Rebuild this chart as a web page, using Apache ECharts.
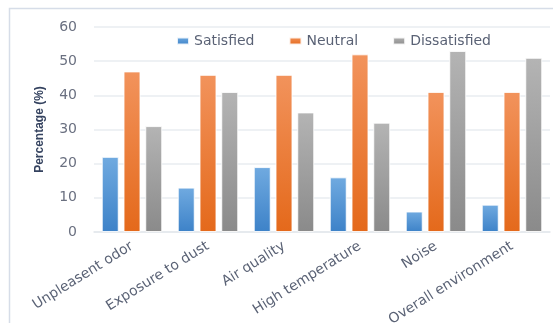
<!DOCTYPE html>
<html>
<head>
<meta charset="utf-8">
<script src="https://cdn.jsdelivr.net/npm/echarts@6/dist/echarts.min.js"></script>
<style>
html,body{margin:0;padding:0;background:#fff;}
#c{width:553px;height:323px;}
</style>
</head>
<body>
<div id="c"></div>
<script>
const categories = ['Unpleasent odor','Exposure to dust','Air quality','High temperature','Noise','Overall environment'];
const satisfied = [22, 13, 19, 16, 6, 8];
const neutral = [47, 46, 46, 52, 41, 41];
const dissatisfied = [31, 41, 35, 32, 53, 51];
const yTicks = {min: 0, max: 60, interval: 10};

function grad(top, bottom) {
  return new echarts.graphic.LinearGradient(0, 0, 0, 1, [
    {offset: 0, color: top}, {offset: 1, color: bottom}
  ]);
}
const font = 'DejaVu Sans';
const chart = echarts.init(document.getElementById('c'), null, {renderer: 'canvas'});
const barCommon = {
  type: 'bar',
  barWidth: 17,
  barGap: '28%',
  itemStyle: {borderColor: 'rgba(255,255,255,0.85)', borderWidth: 1}
};
chart.setOption({
  animation: false,
  backgroundColor: '#fff',
  graphic: [{
    type: 'rect', left: 7, top: 6, silent: true,
    shape: {width: 600, height: 400},
    style: {fill: 'none', stroke: '#d6dde8', lineWidth: 1.5}
  }],
  legend: {
    left: 171, top: 29,
    itemWidth: 12, itemHeight: 7, itemGap: 34,
    icon: 'rect',
    textStyle: {fontFamily: font, fontSize: 14, color: '#5a6275'},
    data: ['Satisfied', 'Neutral', 'Dissatisfied']
  },
  grid: {left: 94, right: 3, top: 27, bottom: 91, containLabel: false, outerBoundsMode: 'none'},
  xAxis: {
    type: 'category',
    data: categories,
    axisLine: {lineStyle: {color: '#e3e7ec', width: 1.5}},
    axisTick: {show: false},
    axisLabel: {
      rotate: 32, interval: 0, margin: 13,
      fontFamily: font, fontSize: 14, color: '#5a6275'
    }
  },
  yAxis: {
    type: 'value',
    min: yTicks.min, max: yTicks.max, interval: yTicks.interval,
    name: 'Percentage (%)',
    nameLocation: 'middle',
    nameGap: 48,
    nameTextStyle: {fontFamily: 'Liberation Sans Narrow, Arial Narrow, sans-serif', fontWeight: 'bold', fontSize: 12, color: '#34425f'},
    axisLine: {show: false},
    axisTick: {show: false},
    axisLabel: {fontFamily: font, fontSize: 14, color: '#6a7080', margin: 17},
    splitLine: {lineStyle: {color: '#e8ecf1', width: 1.5}}
  },
  series: [
    Object.assign({}, barCommon, {name: 'Satisfied', data: satisfied,
      itemStyle: Object.assign({}, barCommon.itemStyle, {color: grad('#70aae0', '#3d82c8')})}),
    Object.assign({}, barCommon, {name: 'Neutral', data: neutral,
      itemStyle: Object.assign({}, barCommon.itemStyle, {color: grad('#f2935c', '#e4691b')})}),
    Object.assign({}, barCommon, {name: 'Dissatisfied', data: dissatisfied,
      itemStyle: Object.assign({}, barCommon.itemStyle, {color: grad('#b4b4b4', '#8a8a8a')})})
  ]
});
</script>
</body>
</html>
